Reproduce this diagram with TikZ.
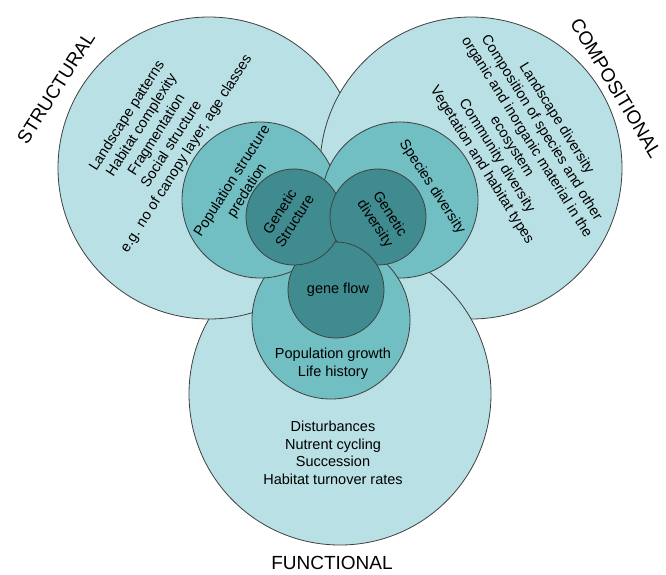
\documentclass[tikz,border=0pt]{standalone}
\usepackage{fontspec}
\setmainfont{Liberation Sans}
\usepackage{tikz}
\definecolor{outerfill}{HTML}{B9E0E4}
\definecolor{middlefill}{HTML}{71BEC3}
\definecolor{corefill}{HTML}{3F8B8F}
\tikzset{
  ring_font/.style = {font=\fontsize{14.5}{17.6}\selectfont},
  heading_font/.style = {font=\fontsize{19}{22}\selectfont},
  rim/.style = {draw=black!75, line width=0.8pt},
  outer_ring/.style = {fill=outerfill},
  middle_ring/.style = {fill=middlefill},
  core_ring/.style = {fill=corefill}
}
\tikzset{
  ring_text/.style = {ring_font, align=center, inner sep=0},
  heading/.style = {heading_font, inner sep=0},
  lean_left/.style = {rotate=57.5},
  lean_right/.style = {rotate=-58}
}
% rim of circle #1 (radius #2), hidden where circle #3 (radius #4) lies over it
\newcommand{\rimoutside}[4]{
  \begin{scope}
    \clip (-20,-20) -- (-20,600) -- (690,600) -- (690,-20) -- cycle (#3) circle[radius=#4];
    \draw[rim] (#1) circle[radius=#2];
  \end{scope}
}

\begin{document}
\begin{tikzpicture}[x=1pt, y=-1pt]
        \useasboundingbox[fill=white] (0,0) rectangle (666,574);

        % Centres
        \coordinate (structural_c) at (209,168);
        \coordinate (compositional_c) at (471,168);
        \coordinate (functional_c) at (340,394);
        \coordinate (population_c) at (260,200);
        \coordinate (species_c) at (400,200);
        \coordinate (growth_c) at (331,320);
        \coordinate (genstruct_c) at (294,217);
        \coordinate (gendiv_c) at (378,217);
        \coordinate (geneflow_c) at (336,290);

        % Outer circles
        \fill[outer_ring] (structural_c) circle[radius=151];
        \fill[outer_ring] (compositional_c) circle[radius=151];
        \fill[outer_ring] (functional_c) circle[radius=151];
        \rimoutside{structural_c}{151}{compositional_c}{151}
        \rimoutside{compositional_c}{151}{functional_c}{151}
        \rimoutside{functional_c}{151}{structural_c}{151}

        % Middle circles
        \fill[middle_ring] (population_c) circle[radius=78];
        \fill[middle_ring] (species_c) circle[radius=78];
        \fill[middle_ring] (growth_c) circle[radius=79];
        \rimoutside{population_c}{78}{species_c}{78}
        \rimoutside{species_c}{78}{growth_c}{79}
        \rimoutside{growth_c}{79}{population_c}{78}

        % Core circles
        \fill[core_ring] (genstruct_c) circle[radius=48];
        \fill[core_ring] (gendiv_c) circle[radius=48];
        \fill[core_ring] (geneflow_c) circle[radius=48];
        \rimoutside{genstruct_c}{48}{gendiv_c}{48}
        \rimoutside{gendiv_c}{48}{geneflow_c}{48}
        \rimoutside{geneflow_c}{48}{genstruct_c}{48}

        % Headings
        \node[heading, lean_left] (structural) at (56,88) {STRUCTURAL};
        \node[heading, rotate=-59] (compositional) at (616,88) {COMPOSITIONAL};
        \node[heading] (functional) at (332,563) {FUNCTIONAL};

        % Texts
        \node[ring_text, lean_left] (structural_txt) at (157,135) {
            Landscape patterns\\ Habitat complexity\\ Fragmentation\\
            Social structure\\ e.g. no of canopy layer, age classes};
        \node[ring_text, lean_right] (compositional_txt) at (519,142) {
            Landscape diversity\\ Composition of species and other\\
            organic and inorganic material in the\\ ecosystem\\
            Community diversity\\ Vegetation and habitat types};
        \node[ring_text] (functional_txt) at (333,453) {
            Disturbances\\ Nutrent cycling\\ Succession\\ Habitat turnover rates};
        \node[ring_text, lean_left] (population_txt) at (240,186) {
            Population structure\\ predation};
        \node[ring_text, rotate=-57] (species_txt) at (432,187) {Species diversity};
        \node[ring_text] (growth_txt) at (333,364) {
            Population growth\\ Life history};
        \node[ring_text, lean_left] (genstruct_txt) at (287,216) {
            Genetic\\ Structure};
        \node[ring_text, rotate=-57] (gendiv_txt) at (382,219) {
            Genetic\\ diversity};
        \node[ring_text] (geneflow_txt) at (338,290) {gene flow};
\end{tikzpicture}
\end{document}
